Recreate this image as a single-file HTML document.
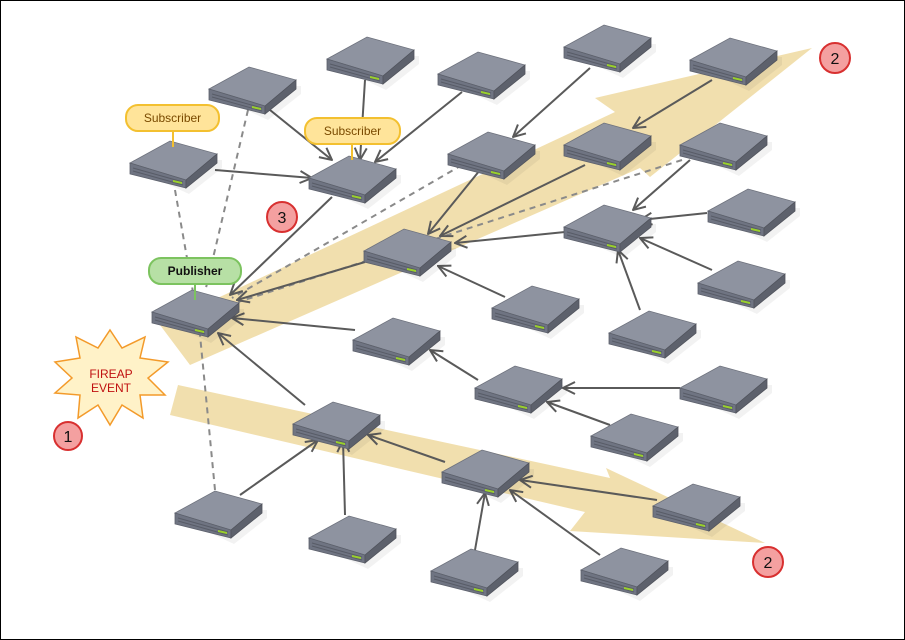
<!DOCTYPE html>
<html><head><meta charset="utf-8"><style>
html,body{margin:0;padding:0;background:#fff}
svg{display:block}
text{font-family:"Liberation Sans",Arial,sans-serif}
</style></head><body>
<svg width="905" height="640" viewBox="0 0 905 640" xmlns="http://www.w3.org/2000/svg">
<defs>
<symbol id="srv" overflow="visible">
<polygon points="3,26 59,52 92,26 92,18 3,18" fill="#000" opacity="0.05" transform="translate(1,2)"/>
<polygon points="1,23 41,1 88,14 57,40" fill="#8e93a0" stroke="#6e727d" stroke-width="0.8"/>
<polygon points="1,23 57,40 57,48 1,34" fill="#6f7482" stroke="#5c606b" stroke-width="0.8"/>
<polygon points="57,40 88,14 88,23 57,48" fill="#5d616c" stroke="#50535c" stroke-width="0.8"/>
<line x1="4" y1="28" x2="54" y2="42" stroke="#585c67" stroke-width="1"/>
<line x1="4" y1="31" x2="54" y2="45" stroke="#585c67" stroke-width="1"/>
<polygon points="44,40 53,42 53,44 44,42" fill="#9ad12a"/>
</symbol>
<marker id="ah" viewBox="0 0 14 14" refX="13" refY="7" markerWidth="14" markerHeight="14" markerUnits="userSpaceOnUse" orient="auto">
<polyline points="1,1 13,7 1,13" fill="none" stroke="#5a5a5a" stroke-width="2"/>
</marker>
</defs>
<rect x="0.5" y="0.5" width="904" height="639" fill="#fff" stroke="#000"/>
<polygon points="160,325 615,112 595,98 812,48 650,177 640,168 190,365" fill="#f0dca5" opacity="0.9"/>
<polygon points="178,385 610,478 606,468 765,543 570,531 585,512 170,415" fill="#f0dca5" opacity="0.9"/>
<g stroke="#8a8a8a" stroke-width="2" stroke-dasharray="6,5" fill="none">
<line x1="248" y1="110" x2="205" y2="292"/>
<line x1="175" y1="190" x2="193" y2="292"/>
<line x1="215" y1="490" x2="200" y2="335"/>
<line x1="462" y1="165" x2="232" y2="298"/>
<line x1="682" y1="160" x2="238" y2="302"/>
</g>
<g stroke="#5a5a5a" stroke-width="2" fill="none" marker-end="url(#ah)">
<line x1="270" y1="110" x2="332" y2="160"/>
<line x1="365" y1="80" x2="360" y2="160"/>
<line x1="462" y1="92" x2="375" y2="162"/>
<line x1="215" y1="170" x2="312" y2="178"/>
<line x1="332" y1="197" x2="230" y2="295"/>
<line x1="590" y1="68" x2="513" y2="137"/>
<line x1="712" y1="80" x2="633" y2="128"/>
<line x1="480" y1="170" x2="428" y2="234"/>
<line x1="585" y1="165" x2="440" y2="236"/>
<line x1="690" y1="160" x2="633" y2="210"/>
<line x1="707" y1="213" x2="640" y2="220"/>
<line x1="712" y1="270" x2="640" y2="238"/>
<line x1="640" y1="310" x2="618" y2="250"/>
<line x1="565" y1="232" x2="455" y2="243"/>
<line x1="505" y1="297" x2="438" y2="266"/>
<line x1="365" y1="262" x2="237" y2="300"/>
<line x1="355" y1="330" x2="232" y2="318"/>
<line x1="305" y1="405" x2="218" y2="333"/>
<line x1="478" y1="380" x2="430" y2="350"/>
<line x1="680" y1="388" x2="563" y2="388"/>
<line x1="610" y1="425" x2="547" y2="402"/>
<line x1="445" y1="462" x2="368" y2="435"/>
<line x1="657" y1="500" x2="520" y2="480"/>
<line x1="600" y1="555" x2="510" y2="490"/>
<line x1="475" y1="550" x2="485" y2="493"/>
<line x1="345" y1="515" x2="343" y2="440"/>
<line x1="240" y1="495" x2="318" y2="440"/>
</g>
<use href="#srv" x="208" y="66"/><use href="#srv" x="326" y="36"/><use href="#srv" x="437" y="51"/>
<use href="#srv" x="563" y="24"/><use href="#srv" x="689" y="37"/><use href="#srv" x="129" y="140"/>
<use href="#srv" x="308" y="155"/><use href="#srv" x="447" y="131"/><use href="#srv" x="563" y="122"/>
<use href="#srv" x="679" y="122"/><use href="#srv" x="707" y="188"/><use href="#srv" x="563" y="204"/>
<use href="#srv" x="363" y="228"/><use href="#srv" x="697" y="260"/><use href="#srv" x="491" y="285"/>
<use href="#srv" x="608" y="310"/><use href="#srv" x="151" y="289"/><use href="#srv" x="352" y="317"/>
<use href="#srv" x="474" y="365"/><use href="#srv" x="679" y="365"/><use href="#srv" x="590" y="413"/>
<use href="#srv" x="292" y="401"/><use href="#srv" x="441" y="449"/><use href="#srv" x="652" y="483"/>
<use href="#srv" x="174" y="490"/><use href="#srv" x="308" y="515"/><use href="#srv" x="430" y="548"/>
<use href="#srv" x="580" y="547"/>
<line x1="173" y1="131" x2="173" y2="147" stroke="#f3c030" stroke-width="2"/>
<rect x="126" y="105" width="93" height="26" rx="12" fill="#ffe49a" stroke="#f3c030" stroke-width="2"/>
<text x="172.5" y="122" font-size="12" fill="#7a4a00" text-anchor="middle">Subscriber</text>
<line x1="352" y1="144" x2="352" y2="160" stroke="#f3c030" stroke-width="2"/>
<rect x="305" y="118" width="95" height="26" rx="12" fill="#ffe49a" stroke="#f3c030" stroke-width="2"/>
<text x="352.5" y="135" font-size="12" fill="#7a4a00" text-anchor="middle">Subscriber</text>
<line x1="195" y1="284" x2="195" y2="300" stroke="#7cc35f" stroke-width="2"/>
<rect x="149" y="258" width="92" height="26" rx="12" fill="#b7e0a5" stroke="#7cc35f" stroke-width="2"/>
<text x="195" y="275" font-size="12" font-weight="bold" fill="#111" text-anchor="middle">Publisher</text>
<polygon points="110,330 122,348 145,337 140,358 168,362 148,378 165,395 140,395 143,418 122,405 110,425 98,405 78,418 80,395 55,393 72,378 55,362 80,358 76,337 98,348" fill="#fff2c8" stroke="#f39a2a" stroke-width="1.5"/>
<text x="111" y="378" font-size="12" fill="#c01010" text-anchor="middle">FIREAP</text>
<text x="111" y="392" font-size="12" fill="#c01010" text-anchor="middle">EVENT</text>
<g fill="#f4a0a0" stroke="#d83030" stroke-width="2">
<circle cx="68" cy="436" r="14"/><circle cx="835" cy="58" r="15"/><circle cx="768" cy="562" r="15"/><circle cx="282" cy="217" r="15"/>
</g>
<g font-size="16" fill="#111" text-anchor="middle">
<text x="68" y="442">1</text><text x="835" y="64">2</text><text x="768" y="568">2</text><text x="282" y="223">3</text>
</g>
</svg>
</body></html>
